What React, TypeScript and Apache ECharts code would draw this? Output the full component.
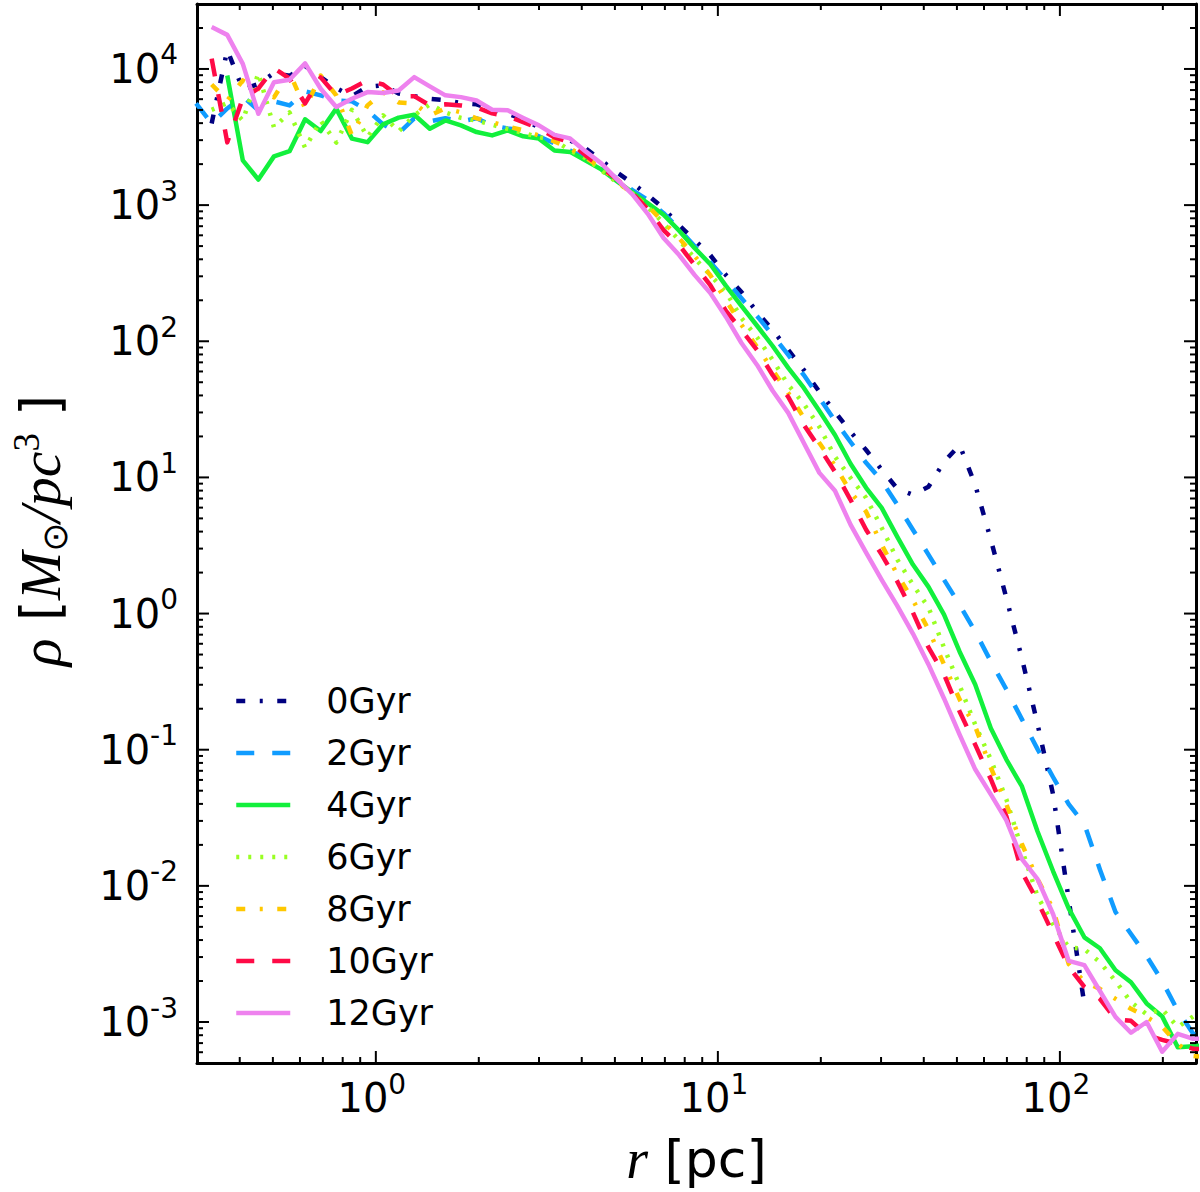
import React, { useEffect, useRef } from 'react';
import * as echarts from 'echarts';

// radius bins [pc]
const RADIUS_PC = [0.2981, 0.3311, 0.3678, 0.4084, 0.4535, 0.5037, 0.5594, 0.6212, 0.6899, 0.7661, 0.8512, 0.9454, 1.050, 1.166, 1.295, 1.438, 1.597, 1.774, 1.970, 2.188, 2.430, 2.698, 2.997, 3.328, 3.696, 4.105, 4.560, 5.065, 5.625, 6.247, 6.938, 7.705, 8.557, 9.504, 10.56, 11.72, 13.02, 14.46, 16.06, 17.84, 19.81, 22.00, 24.43, 27.13, 30.13, 33.47, 37.17, 41.28, 45.84, 50.91, 56.54, 62.81, 69.75, 77.46, 86.03, 95.55, 106.1, 117.9, 130.9, 145.4, 161.4, 179.3, 199.1, 221.1, 245.6, 272.8];

const RHO_0GYR = [null, 3980, 13800, 7080, 7760, 9330, 8910, 10500, 8710, 7240, 6310, 7410, 7590, 6610, 6310, 6030, 5890, 5620, 5500, 5010, 4680, 4270, 3720, 3250, 2990, 2610, 2130, 1740, 1450, 1180, 948, 711, 552, 429, 306, 230, 164, 121, 86.3, 61.5, 42.5, 30.3, 21.6, 15.9, 11.4, 8.26, 7.46, 8.53, 13.0, 17.3, 8.83, 3.49, 1.30, 0.468, 0.154, 0.0468, 0.00794, 0.00135, null, null, null, null, null, null, null, null];
const RHO_2GYR = [5580, 3980, 5130, 6280, 4970, 5780, 5400, 6840, 6400, 5870, 5780, 4970, 3920, 3370, 4340, 4120, 4340, 4120, 4340, 3850, 3660, 3540, 3200, 2840, 2520, 2210, 1900, 1570, 1290, 1090, 873, 665, 499, 381, 281, 207, 153, 111, 79.3, 56.5, 38.4, 26.0, 18.2, 12.8, 9.44, 6.30, 4.13, 2.71, 1.77, 1.16, 0.738, 0.445, 0.277, 0.167, 0.101, 0.0628, 0.0398, 0.0284, 0.0132, 0.00643, 0.00443, 0.00305, 0.00200, 0.00121, 0.000818, 0.00079];
const RHO_4GYR = [null, null, 8950, 2130, 1540, 2280, 2490, 4270, 3500, 5110, 3080, 2900, 3920, 4390, 4610, 3640, 4190, 3850, 3440, 3250, 3540, 3200, 3080, 2520, 2460, 2130, 1830, 1500, 1240, 1030, 849, 649, 483, 368, 255, 182, 130, 92.3, 63.7, 45.4, 30.8, 20.5, 12.6, 8.39, 5.98, 3.66, 2.29, 1.57, 0.982, 0.525, 0.301, 0.144, 0.0847, 0.0537, 0.0251, 0.0128, 0.00684, 0.00419, 0.00348, 0.00240, 0.00196, 0.00137, 0.00110, 0.000653, 0.000664, 0.000676];
const RHO_6GYR = [null, 5010, 5620, 4170, 9330, 3720, 4790, 2630, 4170, 2880, 5010, 3160, 4570, 3470, 4570, 5500, 4790, 4370, 4170, 3890, 3630, 3390, 3160, 2990, 2520, 2210, 1800, 1470, 1220, 964, 736, 552, 407, 306, 230, 148, 107, 72.8, 47.8, 34.7, 23.5, 14.2, 9.93, 7.08, 4.27, 2.49, 1.63, 1.11, 0.562, 0.296, 0.153, 0.0847, 0.0432, 0.0185, 0.00838, 0.00522, 0.00354, 0.00343, 0.00275, 0.00200, 0.00140, 0.00114, 0.00124, 0.000918, 0.00110, 0.00100];
const RHO_8GYR = [null, 7690, 5870, 8240, 7190, 6180, 9420, 5130, 8950, 6400, 3250, 5400, 6730, 5680, 5580, 4560, 5130, 4800, 4340, 4060, 3780, 3540, 3250, 2940, 2610, 2240, 1870, 1520, 1200, 982, 748, 571, 422, 306, 200, 132, 90.8, 61.5, 41.7, 27.4, 17.9, 12.2, 7.85, 5.60, 3.21, 1.93, 1.26, 0.762, 0.423, 0.234, 0.148, 0.0740, 0.0396, 0.0202, 0.0112, 0.00675, 0.00267, 0.00197, 0.00175, 0.00148, 0.00125, 0.00109, 0.000923, 0.000690, 0.000564, 0.00055];
const RHO_10GYR = [null, 11900, 2890, 6080, 7190, 10100, 8510, 5580, 8670, 6400, 7190, 8240, 7690, 6310, 6310, 5400, 5500, 5400, 5220, 4720, 4490, 4060, 3660, 3150, 2890, 2320, 1900, 1550, 1220, 933, 655, 508, 362, 258, 167, 121, 86.3, 56.5, 39.0, 24.3, 16.5, 11.0, 6.85, 4.13, 2.71, 1.72, 1.02, 0.564, 0.357, 0.191, 0.109, 0.0607, 0.0324, 0.0126, 0.00773, 0.00443, 0.00254, 0.00181, 0.00148, 0.00105, 0.00102, 0.000804, 0.000740, 0.000690, 0.000635, 0.00063];
const RHO_12GYR = [null, 20300, 17800, 10900, 4690, 8000, 8340, 11000, 7160, 5250, 6040, 6760, 6650, 6950, 8710, 7450, 6400, 6210, 5870, 5020, 4970, 4370, 3850, 3280, 3090, 2480, 2030, 1550, 1200, 859, 573, 430, 306, 226, 151, 97.1, 67.0, 43.3, 29.8, 17.9, 10.8, 7.98, 4.50, 2.80, 1.77, 1.14, 0.713, 0.423, 0.238, 0.129, 0.0718, 0.0470, 0.0303, 0.0157, 0.0112, 0.00619, 0.00281, 0.00262, 0.00169, 0.00109, 0.000834, 0.00100, 0.000605, 0.000818, 0.000752, 0.00076];

const SERIES_NAMES = ['0Gyr', '2Gyr', '4Gyr', '6Gyr', '8Gyr', '10Gyr', '12Gyr'];
const SERIES_VALUES = [RHO_0GYR, RHO_2GYR, RHO_4GYR, RHO_6GYR, RHO_8GYR, RHO_10GYR, RHO_12GYR];
const SERIES_COLORS = ['#000080', '#109cff', '#12f03c', '#99ff22', '#ffc800', '#ff0a46', '#ee82ee'];
const SERIES_DASH: (number[] | 'solid')[] = [
  [9, 14.5, 3, 14.5],
  [18, 18],
  'solid',
  [3, 9],
  [9, 14.5, 3, 14.5],
  [18, 18],
  'solid',
];

const X_MIN = 0.3;
const X_MAX = 250;
const Y_MIN = 5e-4;
const Y_MAX = 3e4;

const X_MAJOR_TICKS = [1, 10, 100];
const X_MINOR_TICKS = [0.4, 0.5, 0.6, 0.7, 0.8, 0.9, 2, 3, 4, 5, 6, 7, 8, 9, 20, 30, 40, 50, 60, 70, 80, 90, 200];
const Y_MAJOR_TICKS = [1e-3, 1e-2, 1e-1, 1, 10, 100, 1e3, 1e4];
const Y_MINOR_TICKS = [6e-4, 7e-4, 8e-4, 9e-4, 2e-3, 3e-3, 4e-3, 5e-3, 6e-3, 7e-3, 8e-3, 9e-3, 2e-2, 3e-2, 4e-2, 5e-2, 6e-2, 7e-2, 8e-2, 9e-2, 0.2, 0.3, 0.4, 0.5, 0.6, 0.7, 0.8, 0.9, 2, 3, 4, 5, 6, 7, 8, 9, 20, 30, 40, 50, 60, 70, 80, 90, 200, 300, 400, 500, 600, 700, 800, 900, 2e3, 3e3, 4e3, 5e3, 6e3, 7e3, 8e3, 9e3, 2e4];

const tickLabel = (v: number) => {
  const l = Math.log10(v);
  const e = Math.round(l);
  if (Math.abs(l - e) > 1e-6) return '';
  return '{b|10}{s|' + e + '}';
};

const labelRich = {
  b: { fontSize: 40, fontFamily: 'DejaVu Sans', color: '#000', lineHeight: 56 },
  s: { fontSize: 28, fontFamily: 'DejaVu Sans', color: '#000', verticalAlign: 'top', lineHeight: 28, padding: [0, 8, 0, 0] },
};

export default function App() {
  const ref = useRef<HTMLDivElement>(null);
  useEffect(() => {
    document.body.style.margin = '0';
    if (!ref.current) return;
    const chart = echarts.init(ref.current, undefined, { renderer: 'svg' });

    const lineSeries = SERIES_NAMES.map((name, i) => ({
      name,
      type: 'line',
      xAxisIndex: 0,
      yAxisIndex: 0,
      symbol: 'none',
      showSymbol: false,
      clip: true,
      z: 2 + i * 0.01,
      lineStyle: {
        color: SERIES_COLORS[i],
        width: 4.5,
        type: SERIES_DASH[i],
        cap: 'butt',
        join: 'round',
      },
      itemStyle: { color: SERIES_COLORS[i] },
      data: RADIUS_PC.map((r, k) => [r, SERIES_VALUES[i][k]]).filter((p) => p[1] != null),
    }));

    const xTickData = [
      ...X_MAJOR_TICKS.map((v) => [v, 1, 1]),
      ...X_MINOR_TICKS.map((v) => [v, 1, 0]),
    ];
    const yTickData = [
      ...Y_MAJOR_TICKS.map((v) => [1, v, 1]),
      ...Y_MINOR_TICKS.map((v) => [1, v, 0]),
    ];
    const tickStyle = { stroke: '#000', lineWidth: 2 };

    const option: any = {
      animation: false,
      backgroundColor: '#fff',
      grid: { left: 193, right: 4, top: 4, bottom: 127, containLabel: false },
      legend: {
        orient: 'vertical',
        left: 234,
        top: 681,
        padding: 0,
        data: SERIES_NAMES,
        itemWidth: 54,
        itemHeight: 14,
        itemGap: 12,
        selectedMode: false,
        lineStyle: { width: 4.5 },
        itemStyle: { color: 'rgba(0,0,0,0)', borderWidth: 0, opacity: 0 },
        textStyle: {
          fontSize: 35,
          fontFamily: 'DejaVu Sans',
          color: '#000',
          lineHeight: 40,
          padding: [0, 0, 0, 31],
        },
      },
      xAxis: [
        {
          type: 'log',
          logBase: 10,
          min: X_MIN,
          max: X_MAX,
          position: 'bottom',
          axisLine: { show: true, lineStyle: { color: '#000', width: 3 } },
          axisTick: { show: false },
          splitLine: { show: false },
          axisLabel: { formatter: tickLabel, rich: labelRich, margin: 7 },
          name: '{i|r}{n| [pc]}',
          nameLocation: 'middle',
          nameGap: 64,
          nameTextStyle: {
            rich: {
              i: { fontSize: 56, fontFamily: 'Liberation Serif', fontStyle: 'italic', color: '#000', lineHeight: 64 },
              n: { fontSize: 52, fontFamily: 'DejaVu Sans', color: '#000', lineHeight: 64 },
            },
          },
        },
        {
          type: 'log',
          logBase: 10,
          min: X_MIN,
          max: X_MAX,
          position: 'top',
          axisLine: { show: true, lineStyle: { color: '#000', width: 3 } },
          axisTick: { show: false },
          splitLine: { show: false },
          axisLabel: { show: false },
        },
      ],
      yAxis: [
        {
          type: 'log',
          logBase: 10,
          min: Y_MIN,
          max: Y_MAX,
          position: 'left',
          axisLine: { show: true, lineStyle: { color: '#000', width: 3 } },
          axisTick: { show: false },
          splitLine: { show: false },
          axisLabel: { formatter: tickLabel, rich: labelRich, margin: 11 },
          name: '{i|ρ}{n| [}{i|M}{o|⊙}{i|/pc}{p|3}{n| ]}',
          nameLocation: 'middle',
          nameRotate: 90,
          nameGap: 125,
          nameTextStyle: {
            padding: [0, 0, 0, 6],
            rich: {
              i: { fontSize: 58, fontFamily: 'Liberation Serif', fontStyle: 'italic', color: '#000', lineHeight: 64 },
              n: { fontSize: 54, fontFamily: 'DejaVu Sans', color: '#000', lineHeight: 64 },
              o: { fontSize: 35, fontFamily: 'DejaVu Sans', color: '#000', verticalAlign: 'bottom', lineHeight: 42 },
              p: { fontSize: 37, fontFamily: 'Liberation Serif', color: '#000', verticalAlign: 'top', lineHeight: 42 },
            },
          },
        },
        {
          type: 'log',
          logBase: 10,
          min: Y_MIN,
          max: Y_MAX,
          position: 'right',
          axisLine: { show: true, lineStyle: { color: '#000', width: 3 } },
          axisTick: { show: false },
          splitLine: { show: false },
          axisLabel: { show: false },
        },
      ],
      series: [
        ...lineSeries,
        {
          name: 'xticks',
          type: 'custom',
          xAxisIndex: 0,
          yAxisIndex: 0,
          z: 5,
          silent: true,
          encode: { x: 0, y: 1 },
          data: xTickData,
          renderItem: (params: any, api: any) => {
            const cs = params.coordSys;
            const x = api.coord([api.value(0), 1])[0];
            const len = api.value(2) ? 12 : 6;
            const top = cs.y;
            const bottom = cs.y + cs.height;
            return {
              type: 'group',
              children: [
                { type: 'line', shape: { x1: x, y1: bottom, x2: x, y2: bottom - len }, style: tickStyle },
                { type: 'line', shape: { x1: x, y1: top, x2: x, y2: top + len }, style: tickStyle },
              ],
            };
          },
        },
        {
          name: 'yticks',
          type: 'custom',
          xAxisIndex: 0,
          yAxisIndex: 0,
          z: 5,
          silent: true,
          encode: { x: 0, y: 1 },
          data: yTickData,
          renderItem: (params: any, api: any) => {
            const cs = params.coordSys;
            const y = api.coord([1, api.value(1)])[1];
            const len = api.value(2) ? 12 : 6;
            const left = cs.x;
            const right = cs.x + cs.width;
            return {
              type: 'group',
              children: [
                { type: 'line', shape: { x1: left, y1: y, x2: left + len, y2: y }, style: tickStyle },
                { type: 'line', shape: { x1: right, y1: y, x2: right - len, y2: y }, style: tickStyle },
              ],
            };
          },
        },
      ],
    };
    chart.setOption(option);
    return () => chart.dispose();
  }, []);
  return <div ref={ref} style={{ width: 1200, height: 1192 }} />;
}
